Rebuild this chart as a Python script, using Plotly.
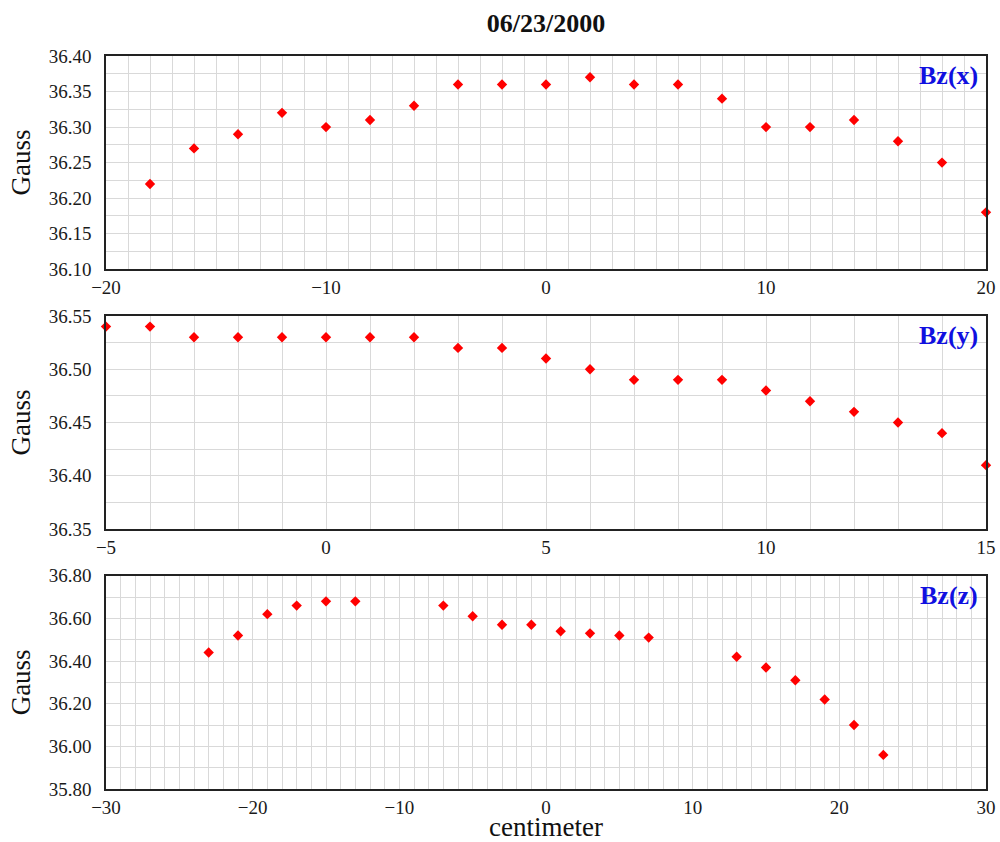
import plotly.graph_objects as go
from plotly.subplots import make_subplots

# Bz measured along x
pos_x = [-18, -16, -14, -12, -10, -8, -6, -4, -2, 0, 2, 4, 6, 8, 10, 12, 14, 16, 18, 20]
bz_x = [36.22, 36.27, 36.29, 36.32, 36.30, 36.31, 36.33, 36.36, 36.36, 36.36,
        36.37, 36.36, 36.36, 36.34, 36.30, 36.30, 36.31, 36.28, 36.25, 36.18]

# Bz measured along y
pos_y = [-5, -4, -3, -2, -1, 0, 1, 2, 3, 4, 5, 6, 7, 8, 9, 10, 11, 12, 13, 14, 15]
bz_y = [36.54, 36.54, 36.53, 36.53, 36.53, 36.53, 36.53, 36.53, 36.52, 36.52, 36.51,
        36.50, 36.49, 36.49, 36.49, 36.48, 36.47, 36.46, 36.45, 36.44, 36.41]

# Bz measured along z
pos_z = [-23, -21, -19, -17, -15, -13, -7, -5, -3, -1, 1, 3, 5, 7, 13, 15, 17, 19, 21, 23]
bz_z = [36.44, 36.52, 36.62, 36.66, 36.68, 36.68, 36.66, 36.61, 36.57, 36.57,
        36.54, 36.53, 36.52, 36.51, 36.42, 36.37, 36.31, 36.22, 36.10, 35.96]

panels = [
    dict(x=pos_x, y=bz_x, label="Bz(x)", xr=[-20, 20], xmaj=10, xmin=1,
         yr=[36.10, 36.40], ymaj=0.05, ymin=0.025, dom=[0.7091, 1.0]),
    dict(x=pos_y, y=bz_y, label="Bz(y)", xr=[-5, 15], xmaj=5, xmin=1,
         yr=[36.35, 36.55], ymaj=0.05, ymin=0.025, dom=[0.3546, 0.6454]),
    dict(x=pos_z, y=bz_z, label="Bz(z)", xr=[-30, 30], xmaj=10, xmin=1,
         yr=[35.80, 36.80], ymaj=0.2, ymin=0.1, dom=[0.0, 0.2909]),
]

FONT = "Liberation Serif"
GRID = "#d9d9d9"
INK = "#1a1a1a"

fig = make_subplots(rows=3, cols=1)

for i, p in enumerate(panels, start=1):
    fig.add_trace(go.Scatter(
        x=p["x"], y=p["y"], mode="markers",
        marker=dict(symbol="diamond", size=8, color="#ff0000"),
        showlegend=False, cliponaxis=False,
    ), row=i, col=1)
    fig.update_xaxes(
        range=p["xr"], dtick=p["xmaj"], tick0=0, automargin=False,
        showgrid=True, gridcolor=GRID, gridwidth=1,
        minor=dict(dtick=p["xmin"], tick0=0, showgrid=True, gridcolor=GRID, gridwidth=1),
        showline=True, linecolor="#222", linewidth=1.5, mirror=True,
        ticks="", zeroline=False,
        tickfont=dict(family=FONT, size=19, color=INK),
        row=i, col=1,
    )
    fig.update_yaxes(
        range=p["yr"], dtick=p["ymaj"], tick0=0, tickformat=".2f", automargin=False,
        showgrid=True, gridcolor=GRID, gridwidth=1,
        minor=dict(dtick=p["ymin"], tick0=0, showgrid=True, gridcolor=GRID, gridwidth=1),
        showline=True, linecolor="#222", linewidth=1.5, mirror=True,
        ticks="outside", ticklen=9, tickcolor="rgba(0,0,0,0)", zeroline=False, domain=p["dom"],
        tickfont=dict(family=FONT, size=19, color=INK),
        title=dict(text="Gauss", font=dict(family=FONT, size=27, color="#111"), standoff=10),
        row=i, col=1,
    )
    xa = "x" if i == 1 else f"x{i}"
    ya = "y" if i == 1 else f"y{i}"
    fig.add_annotation(
        text="<b>" + p["label"] + "</b>", xref=f"{xa} domain", yref=f"{ya} domain",
        x=1, y=1, xanchor="right", yanchor="top", xshift=-6, yshift=-3,
        showarrow=False, font=dict(family=FONT, size=26, color="#1010e0"),
    )

fig.update_xaxes(
    title=dict(text="centimeter", font=dict(family=FONT, size=27, color="#111"), standoff=5),
    row=3, col=1,
)

fig.update_layout(
    width=1000, height=842,
    margin=dict(l=106, r=14, t=56, b=53),
    paper_bgcolor="white", plot_bgcolor="white",
    title=dict(text="<b>06/23/2000</b>", x=0.546, xanchor="center", y=0.9727, yanchor="middle",
               font=dict(family=FONT, size=26, color="#111")),
)

fig.write_html("out.html")
